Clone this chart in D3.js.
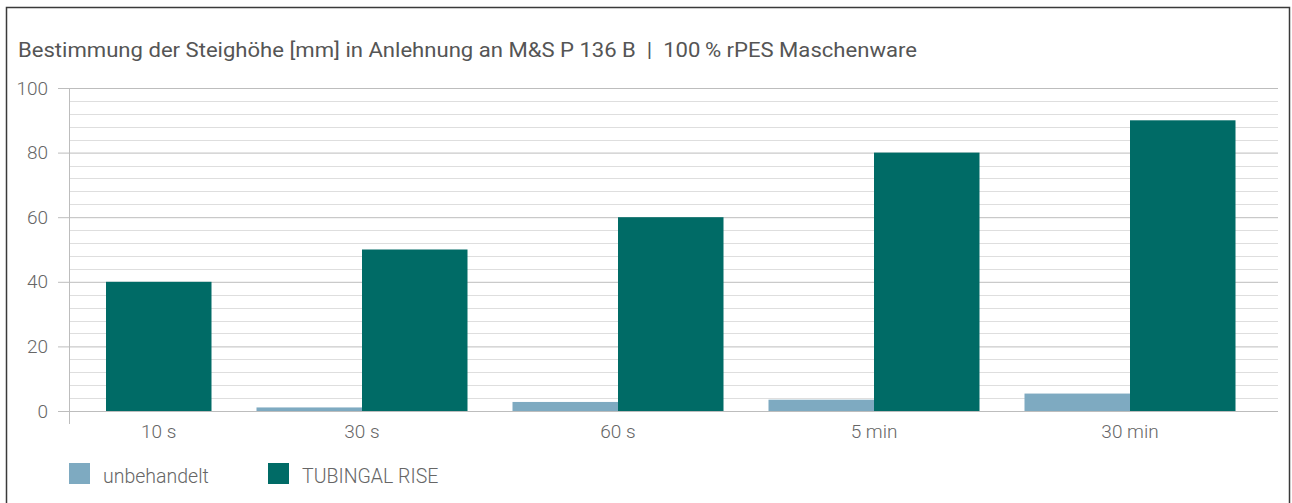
<!DOCTYPE html>
<html>
<head>
<meta charset="utf-8">
<script src="https://cdn.jsdelivr.net/npm/d3@7"></script>
<style>
  body { margin: 0; background: #fff; }
  svg { display: block; font-family: Roboto, "Open Sans", sans-serif; }
</style>
</head>
<body>
<svg id="chart" width="1292" height="503"></svg>
<script>
const categories = ['10 s', '30 s', '60 s', '5 min', '30 min'];
const seriesNames = ['unbehandelt', 'TUBINGAL RISE'];
const unbehandelt = [null, 1.1, 2.8, 3.5, 5.4];
const tubingal = [40, 50, 60, 80, 90];
const yTicks = [0, 20, 40, 60, 80, 100];
const title = 'Bestimmung der Steighöhe [mm] in Anlehnung an M&S P 136 B  |  100\u2009% rPES Maschenware';

const colors = { 'unbehandelt': '#7eaac1', 'TUBINGAL RISE': '#006b66' };

const margin = { left: 69, right: 14, top: 88, bottom: 92 };
const width = 1292 - margin.left - margin.right;
const height = 503 - margin.top - margin.bottom;

const svg = d3.select('#chart');

// frame
svg.append('rect')
    .attr('x', 6.5).attr('y', 7.5)
    .attr('width', 1283).attr('height', 510)
    .attr('fill', 'none')
    .attr('stroke', '#3a3a3a')
    .attr('stroke-width', 1.5);

svg.append('text')
    .attr('x', 18)
    .attr('y', 57)
    .attr('fill', '#555')
    .attr('font-size', 19.5)
    .attr('textLength', 899)
    .attr('lengthAdjust', 'spacingAndGlyphs')
    .style('white-space', 'pre')
    .text(title);

const g = svg.append('g').attr('transform', 'translate(' + margin.left + ',' + margin.top + ')');

const y = d3.scaleLinear().domain([0, 100]).range([height, 0]);

// groups are spaced evenly; the first group has no "unbehandelt" bar
const x0 = d3.scaleBand().domain(categories).range([-91, 1189]);
const x1 = d3.scaleBand().domain(seriesNames).range([22.5, x0.bandwidth() - 22.5]);

// minor grid every 4
g.append('g')
    .selectAll('line')
    .data(d3.range(4, 100, 4).filter(v => v % 20 !== 0))
    .enter().append('line')
    .attr('x1', 0).attr('x2', width)
    .attr('y1', d => Math.round(y(d)) + 0.5)
    .attr('y2', d => Math.round(y(d)) + 0.5)
    .attr('stroke', '#dedede')
    .attr('stroke-width', 1);

// y axis: tick marks run from the left of the axis line across the plot
g.append('g')
    .attr('class', 'y axis')
    .attr('transform', 'translate(-11,0)')
    .call(d3.axisRight(y).tickValues(yTicks).tickSize(width + 11))
    .call(a => a.select('.domain').remove())
    .call(a => a.selectAll('.tick line').attr('stroke', '#bdbdbd'))
    .call(a => a.selectAll('.tick text')
        .attr('x', -10)
        .attr('text-anchor', 'end')
        .attr('fill', '#666')
        .attr('font-size', 19)
        .attr('font-weight', 300)
        .attr('font-family', 'Roboto, sans-serif'));

// vertical axis line
g.append('line')
    .attr('x1', 0.5).attr('x2', 0.5)
    .attr('y1', 0).attr('y2', height + 13)
    .attr('stroke', '#bdbdbd');

const rows = categories.map((c, i) => ({ cat: c, values: [
    { key: 'unbehandelt', value: unbehandelt[i] },
    { key: 'TUBINGAL RISE', value: tubingal[i] }
]}));

const groups = g.selectAll('.group').data(rows)
    .enter().append('g')
    .attr('class', 'group')
    .attr('transform', d => 'translate(' + x0(d.cat) + ',0)');

groups.selectAll('rect')
    .data(d => d.values.filter(v => v.value != null))
    .enter().append('rect')
    .attr('x', d => x1(d.key))
    .attr('width', x1.bandwidth())
    .attr('y', d => y(d.value))
    .attr('height', d => y(0) - y(d.value))
    .attr('fill', d => colors[d.key]);

// category labels, centred under the bars that are drawn
groups.append('text')
    .attr('x', d => {
        const shown = d.values.filter(v => v.value != null);
        return d3.mean(shown, v => x1(v.key) + x1.bandwidth() / 2);
    })
    .attr('y', height + 27)
    .attr('text-anchor', 'middle')
    .attr('fill', '#666')
    .attr('font-size', 19)
    .attr('font-weight', 300)
    .text(d => d.cat);

// legend
const legend = svg.append('g').attr('transform', 'translate(69,463)');
const legendX = [0, 199];
seriesNames.forEach((s, i) => {
    legend.append('rect')
        .attr('x', legendX[i]).attr('y', 0)
        .attr('width', 21).attr('height', 21)
        .attr('fill', colors[s]);
    legend.append('text')
        .attr('x', legendX[i] + 34).attr('y', 20)
        .attr('fill', '#666')
        .attr('font-size', 19.5)
        .attr('font-weight', 300)
        .text(s);
});
</script>
</body>
</html>
